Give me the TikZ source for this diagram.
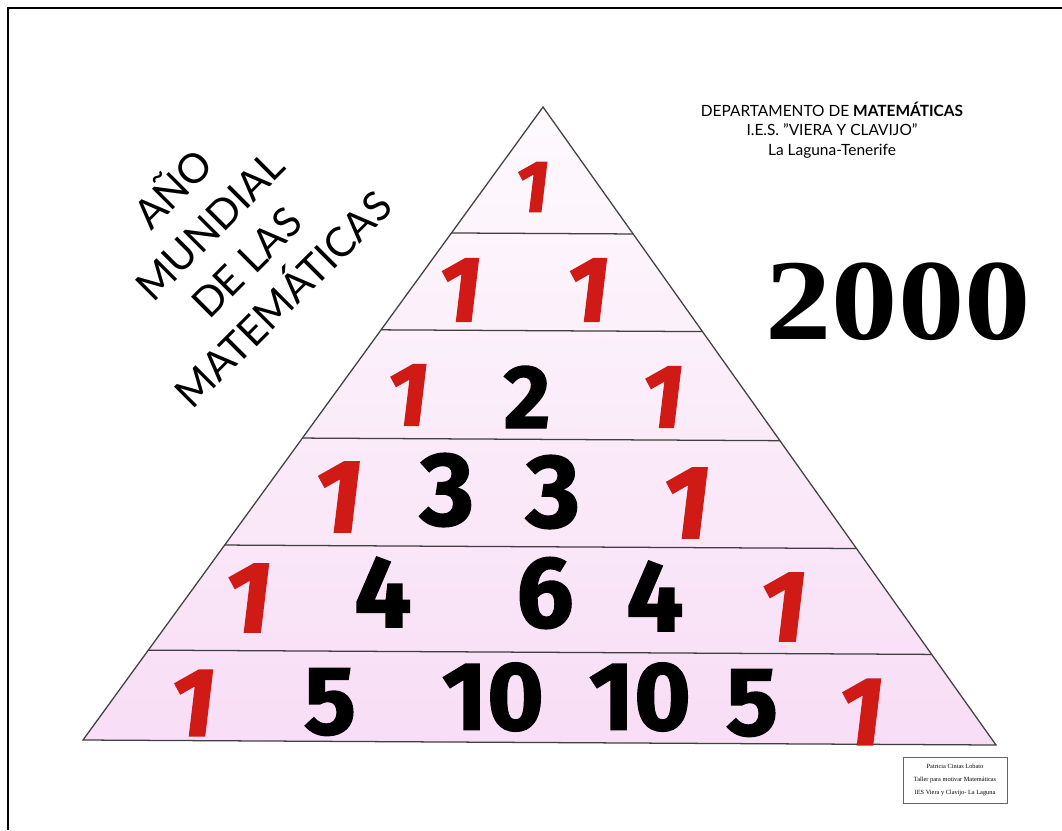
\documentclass[tikz,border=0pt]{standalone}
\usepackage{fontspec}
\usepackage{tikz}
\usetikzlibrary{positioning,calc}
\setmainfont{Lato}
\newfontfamily\numfont{Fira Sans}[FakeBold=1.5]
\newfontfamily\onefont{Fira Sans}[FakeSlant=0.12,FakeBold=1.5]
\newfontfamily\yearfont{Liberation Serif}
\newfontfamily\notefont{Liberation Serif}
\definecolor{OneRed}{RGB}{208,26,22}
\definecolor{PencilPink}{RGB}{232,150,225}
\tikzset{
	digit/.style={font=\numfont\bfseries\fontsize{#1}{#1}\selectfont,inner sep=0pt},
	one/.style={font=\onefont\bfseries\fontsize{#1}{#1}\selectfont,inner sep=0pt,text=OneRed},
	num/.style={digit=#1,text=black},
	rowline/.style={draw=black!75,line width=0.9pt},
	header/.style={font=\fontsize{11}{14}\selectfont,align=center,inner sep=0pt},
}

\begin{document}
\begin{tikzpicture}[x=0.025cm,y=-0.025cm]
	\useasboundingbox (0,0) rectangle (1062,830);
	\fill[white] (0,0) rectangle (1062,830);
	\draw[line width=2pt] (8,830) -- (8,8) -- (1062,8);
	% pyramid
	\coordinate (top) at (543,107);
	\coordinate (bl) at (83,740);
	\coordinate (br) at (996,745);
	\shade[top color=PencilPink!5,bottom color=PencilPink!32] (top) -- (bl) -- (br) -- cycle;
	\draw[rowline] (top) -- (bl) -- (br) -- cycle;
	\foreach \t in {0.199,0.352,0.523,0.692,0.858}
		\draw[rowline] ($(top)!\t!(bl)$) -- ($(top)!\t!(br)$);
	% numbers
	\foreach \st/\n/\x/\y/\s [count=\i] in {
		one/1/530/187/52,
		one/1/457/290/66, one/1/585/290/66,
		one/1/405/395/64, num/2/527/397/64, one/1/660/397/64,
		one/1/335/497/74, num/3/447/490/74, num/3/553/492/74, one/1/683/503/74,
		one/1/245/598/72, num/4/383/592/72, num/6/545/593/72, num/4/655/596/72, one/1/780/607/72,
		one/1/190/703/69, num/5/330/702/69, num/10/493/697/69, num/10/640/697/69, num/5/752/703/69, one/1/858/712/69}
		\node[\st=\s] (n\i) at (\x,\y) {\n};
	% titles
	\node[font=\fontsize{29}{37}\selectfont,align=center,rotate=45] (title) at (226,242)
		{AÑO\\MUNDIAL\\DE LAS\\MATEMÁTICAS};
	\node[header] (dep) at (832,130) {DEPARTAMENTO DE \textbf{MATEMÁTICAS}\\I.E.S. "VIERA Y CLAVIJO"\\La Laguna-Tenerife};
	\node[font=\yearfont\bfseries\fontsize{82}{82}\selectfont,inner sep=0pt] (year) at (898,302) {\scalebox{1.15}[1]{2000}};
	\node[draw=black!60,line width=0.5pt,font=\notefont\fontsize{4.5}{9.5}\selectfont,align=center,
		minimum width=104*0.025cm,minimum height=46*0.025cm,inner sep=1pt] (note) at (955,780)
		{Patricia Cintas Lobato\\Taller para motivar Matemáticas\\IES Viera y Clavijo- La Laguna};
\end{tikzpicture}
\end{document}
